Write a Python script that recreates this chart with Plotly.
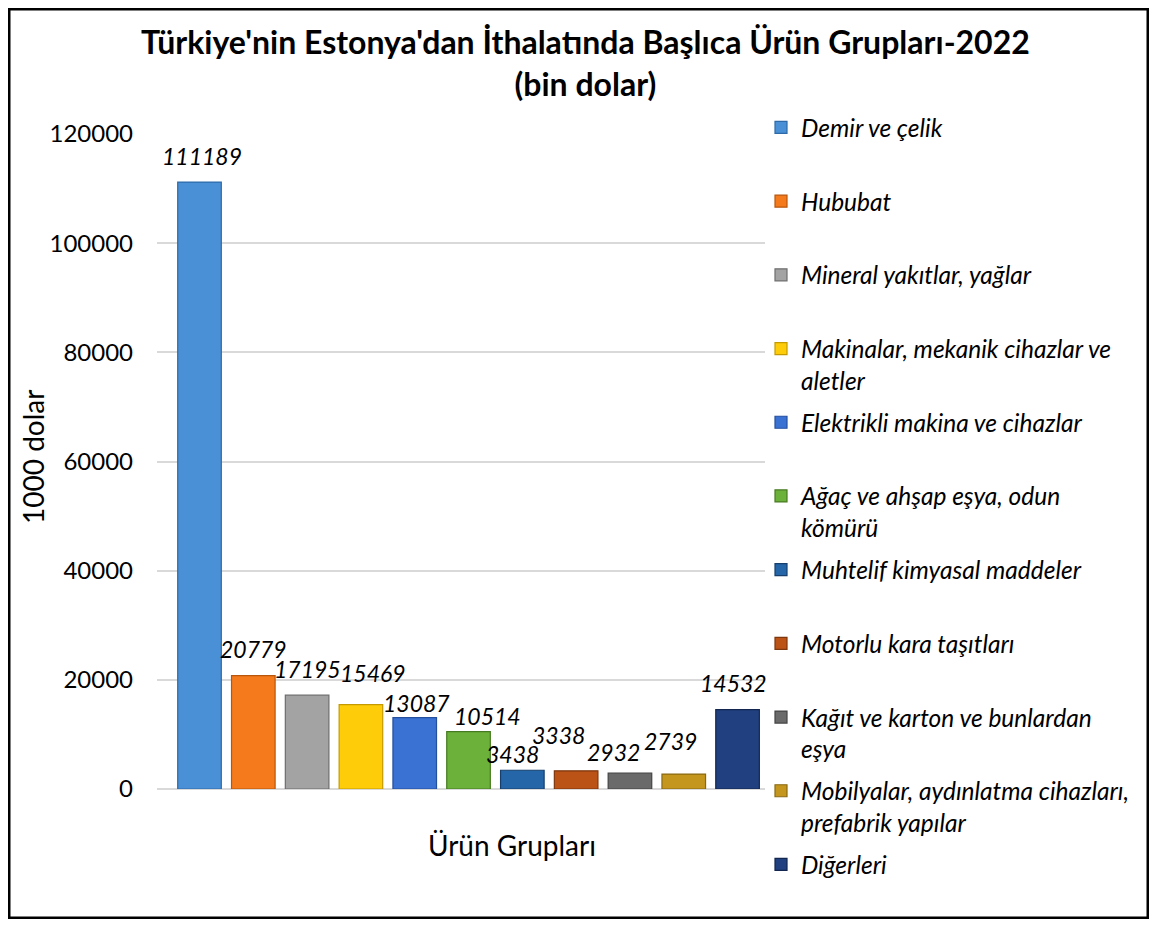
import plotly.graph_objects as go

# Ürün grupları ve 2022 ithalat değerleri (bin dolar)
categories = [
    "Demir ve çelik",
    "Hububat",
    "Mineral yakıtlar, yağlar",
    "Makinalar, mekanik cihazlar ve<br>aletler",
    "Elektrikli makina ve cihazlar",
    "Ağaç ve ahşap eşya, odun<br>kömürü",
    "Muhtelif kimyasal maddeler",
    "Motorlu kara taşıtları",
    "Kağıt ve karton ve bunlardan<br>eşya",
    "Mobilyalar, aydınlatma cihazları,<br>prefabrik yapılar",
    "Diğerleri",
]
values = [111189, 20779, 17195, 15469, 13087, 10514, 3438, 3338, 2932, 2739, 14532]

colors = ["#4a90d6", "#f57a1c", "#a3a3a3", "#ffcc0a", "#3a72d4", "#6cb23a",
          "#2566a8", "#bb5316", "#6a6a6a", "#c4961e", "#20407f"]
edges = ["#2e6aa8", "#b8560c", "#6e6e6e", "#c49a00", "#244f9e", "#467a20",
         "#163f6e", "#7e360c", "#444444", "#8a6912", "#12264f"]

# label nudges in pixels (dx, dy above bar top), staggered as in the original
label_nudge = [(2, 26), (0, 27), (0, 26), (12, 32), (2, 15), (19, 16),
               (-10, 16), (-18, 36), (-16, 21), (-13, 33), (-4, 27)]

FONT = "Lato"
W, H = 1141, 911
ML, MR, MT, MB = 149, 384, 126, 130
PW, PH = W - ML - MR, H - MT - MB


def px(x):
    return (x - ML) / PW


def py(y):
    return (H - MB - y) / PH


fig = go.Figure()

for i, (cat, val) in enumerate(zip(categories, values)):
    # keep every legend entry two lines tall so the spacing stays even
    name = cat if "<br>" in cat else cat + "<br>\u00a0"
    fig.add_trace(go.Bar(
        x=[i],
        y=[val],
        name=name,
        width=0.81,
        marker=dict(color=colors[i], line=dict(color=edges[i], width=1.2)),
        legendgroup=str(i),
        hoverinfo="y+name",
    ))

# value labels sit a little above each bar, like the Excel original
labels = [
    dict(x=i, y=val, text=str(val), xref="x", yref="y", showarrow=False,
         xshift=label_nudge[i][0], yshift=label_nudge[i][1],
         xanchor="center", yanchor="middle",
         font=dict(family=FONT, size=23, color="black", style="italic"))
    for i, val in enumerate(values)
]

fig.update_xaxes(
    range=[-0.79, 10.51],
    showticklabels=False,
    showgrid=False,
    zeroline=False,
    showline=False,
)
fig.update_yaxes(
    range=[0, 120000],
    dtick=20000,
    showgrid=True,
    gridcolor="#d9d9d9",
    gridwidth=1.5,
    zeroline=True,
    zerolinecolor="#d9d9d9",
    zerolinewidth=1.5,
    tickformat="d",
    ticklabelstandoff=23,
    tickfont=dict(family=FONT, size=24, color="black"),
)

fig.update_layout(
    width=W,
    height=H,
    margin=dict(l=ML, r=MR, t=MT, b=MB),
    barmode="overlay",
    plot_bgcolor="white",
    paper_bgcolor="white",
    font=dict(family=FONT, color="black"),
    legend=dict(
        x=px(753), xanchor="left",
        y=py(97), yanchor="top",
        font=dict(family=FONT, size=24.5, color="black", style="italic"),
        valign="top",
        tracegroupgap=7,
        maxheight=1,
        borderwidth=0,
        bgcolor="rgba(0,0,0,0)",
    ),
    showlegend=True,
    annotations=labels + [
        dict(text="<b>Türkiye'nin Estonya'dan İthalatında Başlıca Ürün Grupları-2022<br>(bin dolar)</b>",
             xref="paper", yref="paper", x=px(577), y=py(55),
             xanchor="center", yanchor="middle", showarrow=False,
             font=dict(family=FONT, size=32, color="black")),
        dict(text="1000 dolar", textangle=-90, xref="paper", yref="paper",
             x=px(25), y=py(449), xanchor="center", yanchor="middle",
             showarrow=False, font=dict(family=FONT, size=28, color="black")),
        dict(text="Ürün Grupları", xref="paper", yref="paper",
             x=px(504), y=py(837), xanchor="center", yanchor="middle",
             showarrow=False, font=dict(family=FONT, size=28, color="black")),
    ],
    shapes=[
        dict(type="rect", xref="paper", yref="paper",
             x0=px(1), x1=px(W - 1), y0=py(H - 1), y1=py(1),
             line=dict(color="black", width=3)),
    ],
)

fig.write_html("out.html")
